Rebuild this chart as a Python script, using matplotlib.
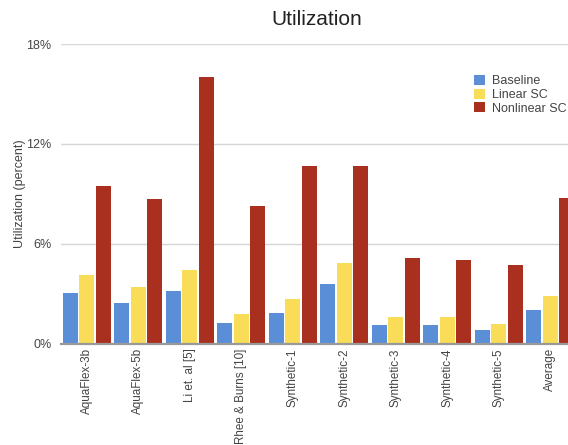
import numpy as np
import matplotlib.pyplot as plt

categories = ["AquaFlex-3b", "AquaFlex-5b", "Li et. al [5]", "Rhee & Burns [10]",
              "Synthetic-1", "Synthetic-2", "Synthetic-3", "Synthetic-4",
              "Synthetic-5", "Average"]
baseline = [3.04, 2.44, 3.2, 1.24, 1.86, 3.6, 1.16, 1.16, 0.84, 2.06]
linear_sc = [4.14, 3.4, 4.44, 1.82, 2.7, 4.86, 1.64, 1.64, 1.22, 2.88]
nonlinear_sc = [9.48, 8.7, 16.04, 8.26, 10.7, 10.7, 5.14, 5.02, 4.72, 8.78]
yticks = [0, 6, 12, 18]
ytick_labels = ["0%", "6%", "12%", "18%"]

plt.rcParams['font.family'] = ['Liberation Sans', 'DejaVu Sans']

fig = plt.figure(figsize=(5.68, 4.45), dpi=100)
ax = fig.add_axes([61 / 568, 101 / 445, 515 / 568, 300 / 445])

x = np.arange(len(categories))
w = 0.3
step = 0.32
ax.bar(x - step, baseline, w, color='#5a8fd8', label='Baseline', zorder=3)
ax.bar(x, linear_sc, w, color='#f9dc57', label='Linear SC', zorder=3)
ax.bar(x + step, nonlinear_sc, w, color='#a9301f', label='Nonlinear SC', zorder=3)

ax.set_xlim(-0.5, len(categories) - 0.5)
ax.set_ylim(0, 18)
ax.set_yticks(yticks)
ax.set_yticklabels(ytick_labels)
ax.set_xticks(x)
ax.set_xticklabels(categories, rotation=90, va='top', ha='center')
ax.tick_params(axis='y', length=0, labelsize=9, colors='#444444', pad=7)
ax.tick_params(axis='x', length=0, labelsize=8.4, colors='#444444', pad=3)

ax.grid(axis='y', color='#d6d6d6', linewidth=1, zorder=0)
for s in ['left', 'right', 'top']:
    ax.spines[s].set_visible(False)
ax.spines['bottom'].set_color('#999999')
ax.spines['bottom'].set_linewidth(1.6)
ax.spines['bottom'].set_zorder(4)

ax.set_ylabel("Utilization (percent)", fontsize=9, color='#444444')
ax.yaxis.set_label_coords(-35 / 515, 0.5)
fig.text(0.558, 0.957, "Utilization", fontsize=15, color='#222222', ha='center', va='center')

ax.legend(loc='upper left', bbox_to_anchor=(0.78, 0.935), frameon=False, fontsize=9,
          handlelength=0.85, handleheight=0.85, handletextpad=0.6, labelspacing=0.12,
          labelcolor='#444444')

fig.savefig("out.png", dpi=100)
